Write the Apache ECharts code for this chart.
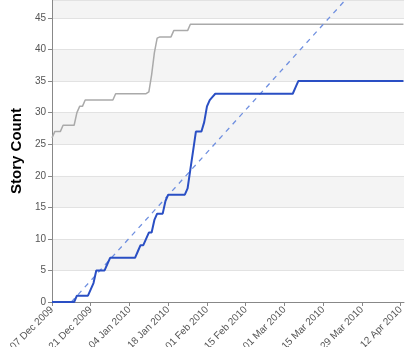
<!DOCTYPE html>
<html><head><meta charset="utf-8">
<script src="https://cdn.jsdelivr.net/npm/echarts@6/dist/echarts.min.js"></script>
<style>html,body{margin:0;padding:0;background:#fff}#c{width:408px;height:347px}</style>
</head><body><div id="c"></div>
<script>
const startDate = '2009-12-07';
const yTitle = 'Story Count';
const monthNames = ['Jan','Feb','Mar','Apr','May','Jun','Jul','Aug','Sep','Oct','Nov','Dec'];

const scopeDates = ['2009-12-07','2009-12-08','2009-12-10','2009-12-11','2009-12-15','2009-12-16','2009-12-17','2009-12-18','2009-12-19','2009-12-29','2009-12-30','2010-01-10','2010-01-11','2010-01-12','2010-01-13','2010-01-14','2010-01-15','2010-01-19','2010-01-20','2010-01-25','2010-01-26','2010-04-13'];
const scopeValues = [26,27,27,28,28,30,31,31,32,32,33,33,33.3,36,39.5,41.8,42,42,43,43,44,44];

const doneDates = ['2009-12-07','2009-12-15','2009-12-16','2009-12-20','2009-12-21','2009-12-22','2009-12-23','2009-12-26','2009-12-27','2009-12-28','2010-01-05','2010-01-06','2010-01-07','2010-01-08','2010-01-09','2010-01-10','2010-01-11','2010-01-12','2010-01-13','2010-01-14','2010-01-16','2010-01-17','2010-01-18','2010-01-24','2010-01-25','2010-01-26','2010-01-27','2010-01-28','2010-01-30','2010-01-31','2010-02-01','2010-02-02','2010-02-03','2010-02-04','2010-03-04','2010-03-05','2010-03-06','2010-04-13'];
const doneValues = [0,0,1,1,2,3,5,5,6,7,7,7,8,9,9,10,11,11,13,14,14,16,17,17,18,21,24,27,27,28.5,31,32,32.5,33,33,34,35,35];

const idealDates = ['2009-12-14','2010-04-13'];
const idealValues = [0,58];

const yTicks = [0,5,10,15,20,25,30,35,40,45];

function dayOf(s){const p=s.split('-').map(Number);const b=startDate.split('-').map(Number);return (Date.UTC(p[0],p[1]-1,p[2])-Date.UTC(b[0],b[1]-1,b[2]))/86400000;}
function pairs(d,v){return d.map((x,i)=>[dayOf(x),v[i]]);}
function fmt(day){const b=startDate.split('-').map(Number);const dt=new Date(Date.UTC(b[0],b[1]-1,b[2])+Math.round(day)*86400000);const dd=String(dt.getUTCDate()).padStart(2,'0');return dd+' '+monthNames[dt.getUTCMonth()]+' '+dt.getUTCFullYear();}

const chart = echarts.init(document.getElementById('c'));
chart.setOption({
  animation:false,
  textStyle:{fontFamily:'Liberation Sans, Arial, sans-serif'},
  grid:{left:52,right:4,top:0,bottom:45,containLabel:false,outerBoundsMode:'none'},
  xAxis:{type:'value',min:0,max:127.2,interval:14,
    axisLine:{show:true,lineStyle:{color:'#888',width:1}},
    axisTick:{show:true,length:4,lineStyle:{color:'#888'}},
    axisLabel:{rotate:45,fontSize:10,color:'#555',margin:6,showMaxLabel:false,formatter:fmt},
    splitLine:{show:false}},
  yAxis:{type:'value',min:0,max:47.85,interval:5,
    name:yTitle,nameLocation:'middle',nameGap:28,nameRotate:90,
    nameTextStyle:{fontSize:15,fontWeight:'bold',color:'#000',fontFamily:'Liberation Sans, Arial, sans-serif'},
    axisLine:{show:true,lineStyle:{color:'#888',width:1}},
    axisTick:{show:true,length:4,lineStyle:{color:'#888'}},
    axisLabel:{fontSize:10,color:'#555',margin:6,showMaxLabel:false,
      formatter:v=>yTicks.includes(v)?String(v):''},
    splitLine:{show:true,lineStyle:{color:'#e2e2e2',width:1}},
    splitArea:{show:true,areaStyle:{color:['#ffffff','#f4f4f4']}}},
  series:[
    {type:'line',data:pairs(scopeDates,scopeValues),showSymbol:false,symbol:'none',lineStyle:{color:'#aaaaaa',width:1.5}},
    {type:'line',data:pairs(idealDates,idealValues),showSymbol:false,symbol:'none',clip:true,lineStyle:{color:'#7090e0',width:1.3,type:[5,5]}},
    {type:'line',data:pairs(doneDates,doneValues),showSymbol:false,symbol:'none',lineStyle:{color:'#2a4fc4',width:2}}
  ]
});
</script></body></html>
